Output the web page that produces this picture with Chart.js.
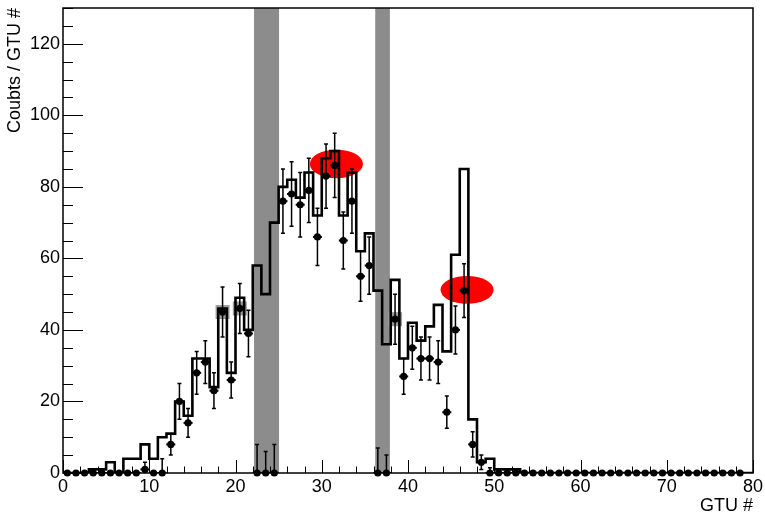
<!DOCTYPE html>
<html>
<head>
<meta charset="utf-8">
<script src="https://cdn.jsdelivr.net/npm/chart.js@4/dist/chart.umd.min.js"></script>
<style>
  html, body { margin: 0; padding: 0; background: #fff; }
</style>
</head>
<body>
<canvas id="grafica" width="765" height="517"></canvas>
<script>
// =======================================================
// DATOS
// =======================================================
// contenido de cada bin (bin i va de i a i+1)
const histograma = [
    0, 0, 0, 1, 1, 3, 0, 4, 4, 8,
    4, 10, 11, 20, 16, 32, 32, 24, 46, 28,
    49, 40, 58, 50, 70, 80, 82, 77, 84, 72,
    88, 90, 72, 84, 62, 67, 51, 36, 54, 32,
    42, 37, 41, 47, 34, 61, 85, 15, 3, 4,
    1, 1, 1, 0, 0, 0, 0, 0, 0, 0,
    0, 0, 0, 0, 0, 0, 0, 0, 0, 0,
    0, 0, 0, 0, 0, 0, 0, 0, 0, 0
];

// puntos medidos (centro del bin i + 0.5)
const puntos = [
    0, 0, 0, 0, 0, 0, 0, 0, 0, 1,
    0, 0, 8, 20, 14, 28, 31, 23, 45, 26,
    46, 39, 0, 0, 0, 76, 78, 75, 79, 66,
    83, 86, 65, 76, 55, 58, 0, 0, 43, 27,
    35, 32, 32, 31, 17, 40, 51, 8, 3, 0,
    0, 0, 0, 0, 0, 0, 0, 0, 0, 0,
    0, 0, 0, 0, 0, 0, 0, 0, 0, 0,
    0, 0, 0, 0, 0, 0, 0, 0, 0
];

const errores = [
    0, 0, 0, 0, 0, 0, 0, 0, 0, 2,
    0, 4, 3, 5, 4, 6, 6, 5, 7, 5,
    7, 6.5, 8, 6, 8, 9, 9, 9, 9, 8,
    9, 9, 8, 9, 7, 8, 7, 5, 7, 5,
    6, 6, 6, 6, 4.5, 6.7, 7.5, 3.5, 2, 1.5,
    0, 0, 0, 0, 0, 0, 0, 0, 0, 0,
    0, 0, 0, 0, 0, 0, 0, 0, 0, 0,
    0, 0, 0, 0, 0, 0, 0, 0, 0
];

const bandaInicio = [22.15, 36.2];
const bandaFin = [25.05, 37.9];

const elipseX = [31.7, 46.85];
const elipseY = [86.4, 51.2];
const elipseRx = [3.08, 3.08];
const elipseRy = [4.0, 3.9];

const marcados = [18, 20, 38];

const ticksX = [0, 10, 20, 30, 40, 50, 60, 70, 80];
const ticksY = [0, 20, 40, 60, 80, 100, 120];

const fuente = "'Liberation Sans', Arial, sans-serif";

// =======================================================
// PLUGIN: fondo, barras de error, marco y ticks
// =======================================================
const extras = {
    id: "extras",
    beforeDatasetsDraw(chart) {
        const { ctx, chartArea: a, scales: { x, y } } = chart;
        ctx.save();
        ctx.beginPath();
        ctx.rect(a.left, a.top, a.right - a.left, a.bottom - a.top);
        ctx.clip();

        // bandas grises
        ctx.fillStyle = "#8c8c8c";
        bandaInicio.forEach((b, k) => {
            const x0 = x.getPixelForValue(b);
            const x1 = x.getPixelForValue(bandaFin[k]);
            ctx.fillRect(x0, a.top, x1 - x0, a.bottom - a.top);
        });

        // elipses rojas
        ctx.fillStyle = "#ff0000";
        elipseX.forEach((cx, k) => {
            const px = x.getPixelForValue(cx);
            const py = y.getPixelForValue(elipseY[k]);
            const rx = Math.abs(x.getPixelForValue(cx + elipseRx[k]) - px);
            const ry = Math.abs(y.getPixelForValue(elipseY[k] + elipseRy[k]) - py);
            ctx.beginPath();
            ctx.ellipse(px, py, rx, ry, 0, 0, Math.PI * 2);
            ctx.fill();
        });

        // cuadros grises en los puntos marcados
        ctx.fillStyle = "#9c9c9c";
        marcados.forEach(i => {
            const px = x.getPixelForValue(i + 0.5);
            const py = y.getPixelForValue(puntos[i]);
            ctx.fillRect(px - 7, py - 7, 14, 14);
        });

        // barras de error
        ctx.strokeStyle = "#000";
        ctx.lineWidth = 1.5;
        puntos.forEach((v, i) => {
            const px = x.getPixelForValue(i + 0.5);
            const py = y.getPixelForValue(v);
            ctx.beginPath();
            ctx.moveTo(px - 4.5, py);
            ctx.lineTo(px + 4.5, py);
            ctx.lineWidth = 2;
            ctx.stroke();
            ctx.lineWidth = 1.5;
            if (errores[i] > 0) {
                const ya = y.getPixelForValue(v + errores[i]);
                const yb = y.getPixelForValue(v - errores[i]);
                ctx.beginPath();
                ctx.moveTo(px, ya);
                ctx.lineTo(px, yb);
                ctx.moveTo(px - 2, ya);
                ctx.lineTo(px + 2, ya);
                ctx.moveTo(px - 2, yb);
                ctx.lineTo(px + 2, yb);
                ctx.stroke();
            }
        });
        ctx.restore();
    },
    afterDraw(chart) {
        const { ctx, chartArea: a, scales: { x, y } } = chart;
        ctx.save();
        ctx.strokeStyle = "#000";
        ctx.lineWidth = 1;

        // ticks menores y mayores hacia dentro
        ctx.beginPath();
        for (let v = 0; v <= 80; v += 2) {
            const px = Math.round(x.getPixelForValue(v)) + 0.5;
            const largo = v % 10 === 0 ? 13 : 6.5;
            ctx.moveTo(px, a.bottom);
            ctx.lineTo(px, a.bottom - largo);
        }
        for (let v = 0; v <= 130; v += 5) {
            const py = Math.round(y.getPixelForValue(v)) + 0.5;
            const largo = v % 20 === 0 ? 20 : 10;
            ctx.moveTo(a.left, py);
            ctx.lineTo(a.left + largo, py);
        }
        ctx.stroke();

        // marco
        ctx.lineWidth = 1.5;
        ctx.strokeRect(a.left, a.top, a.right - a.left, a.bottom - a.top);
        ctx.restore();
    }
};

// =======================================================
// GRÁFICA
// =======================================================
const ctx = document.getElementById("grafica").getContext("2d");

const datosHist = histograma.map((v, i) => ({ x: i, y: v }));
datosHist.push({ x: 80, y: histograma[79] });

new Chart(ctx, {
    type: "scatter",
    data: {
        datasets: [
            {
                type: "scatter",
                data: puntos.map((v, i) => ({ x: i + 0.5, y: v })),
                pointRadius: 3.6,
                pointBackgroundColor: "#000",
                pointBorderWidth: 0,
                clip: false,
                order: 0
            },
            {
                type: "line",
                data: datosHist,
                stepped: true,
                showLine: true,
                borderColor: "#000",
                borderWidth: 2.6,
                borderJoinStyle: "miter",
                pointRadius: 0,
                fill: false,
                order: 1
            }
        ]
    },
    options: {
        responsive: false,
        animation: false,
        layout: { padding: { top: 8, right: 12, left: 0, bottom: 0 } },
        plugins: {
            legend: { display: false },
            tooltip: { enabled: false }
        },
        scales: {
            x: {
                type: "linear",
                min: 0,
                max: 80,
                afterFit: s => { s.height = 44; s.paddingLeft = 0; s.paddingRight = 0; },
                afterBuildTicks: s => { s.ticks = ticksX.map(v => ({ value: v })); },
                grid: { display: false, drawTicks: false },
                border: { display: false },
                ticks: { color: "#000", padding: 3, maxRotation: 0, font: { family: fuente, size: 18 } },
                title: {
                    display: true,
                    text: "GTU #",
                    align: "end",
                    color: "#000",
                    padding: { top: 0, bottom: 0 },
                    font: { family: fuente, size: 18 }
                }
            },
            y: {
                type: "linear",
                min: 0,
                max: 130,
                afterFit: s => { s.width = 63; s.paddingTop = 0; s.paddingBottom = 0; },
                afterBuildTicks: s => { s.ticks = ticksY.map(v => ({ value: v })); },
                grid: { display: false, drawTicks: false },
                border: { display: false },
                ticks: { color: "#000", padding: 3, font: { family: fuente, size: 18 } },
                title: {
                    display: true,
                    text: "Coubts / GTU #",
                    align: "end",
                    color: "#000",
                    padding: { top: 4, bottom: 0 },
                    font: { family: fuente, size: 18 }
                }
            }
        }
    },
    plugins: [extras]
});
</script>
</body>
</html>
